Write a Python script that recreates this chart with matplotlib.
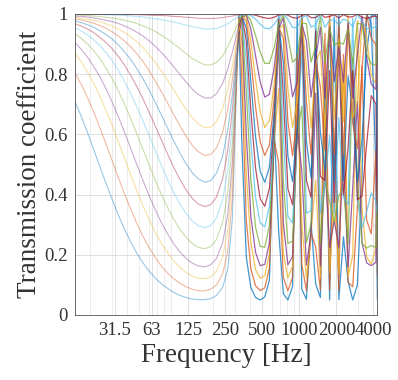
import numpy as np
import matplotlib
matplotlib.use("Agg")
import matplotlib.pyplot as plt
from matplotlib.ticker import FixedLocator, LogLocator, NullFormatter

plt.rcParams['font.family'] = ['Liberation Serif', 'DejaVu Serif']

# frequency grid [Hz]
freq = [15, 17, 19, 21.5, 24, 27, 30, 34, 38, 43, 48, 54, 60, 68, 76, 85, 95, 107,
        120, 135, 150, 170, 190, 212, 238, 262, 285, 305, 322, 340,
        370, 403, 440, 480, 523, 570, 622, 678, 740, 806, 880, 960, 1046, 1140,
        1244, 1356, 1480, 1612, 1760, 1918, 2092, 2280, 2488, 2712, 2958, 3226,
        3518, 3836, 4184, 4300]

# transmission coefficient, one list per case (deepest dip first)
t14 = [0.709, 0.656, 0.605, 0.545, 0.491, 0.434, 0.385, 0.329, 0.284, 0.239, 0.203, 0.171,
       0.146, 0.121, 0.103, 0.088, 0.075, 0.065, 0.058, 0.053, 0.051, 0.051, 0.054, 0.065,
       0.092, 0.154, 0.318, 0.709, 0.993, 0.580,
       0.193, 0.091, 0.058, 0.050, 0.060, 0.115, 0.629, 0.278, 0.071, 0.050, 0.095, 1.0,
       0.086, 0.052, 0.305, 0.103, 0.058, 0.790, 0.050, 0.990, 0.051, 0.260, 0.111, 0.050,
       0.099, 0.459, 1.0, 0.970, 0.490, 0.052]
t13 = [0.805, 0.763, 0.721, 0.670, 0.620, 0.565, 0.514, 0.453, 0.401, 0.347, 0.302, 0.258,
       0.224, 0.188, 0.161, 0.139, 0.121, 0.105, 0.094, 0.085, 0.081, 0.080, 0.086, 0.100,
       0.137, 0.214, 0.390, 0.721, 0.996, 0.784,
       0.316, 0.153, 0.097, 0.081, 0.090, 0.156, 0.585, 0.505, 0.125, 0.080, 0.125, 0.866,
       0.168, 0.081, 0.273, 0.225, 0.083, 0.935, 0.083, 0.585, 0.081, 0.866, 0.109, 0.094,
       0.356, 0.828, 0.316, 0.269, 0.547, 0.132]
t12 = [0.870, 0.839, 0.807, 0.766, 0.725, 0.677, 0.631, 0.572, 0.519, 0.461, 0.410, 0.359,
       0.317, 0.272, 0.236, 0.206, 0.180, 0.158, 0.141, 0.129, 0.122, 0.121, 0.127, 0.146,
       0.192, 0.282, 0.461, 0.742, 0.976, 0.912,
       0.472, 0.241, 0.151, 0.122, 0.130, 0.203, 0.571, 0.752, 0.208, 0.123, 0.163, 0.733,
       0.304, 0.122, 0.272, 0.449, 0.121, 0.665, 0.140, 0.395, 0.137, 0.851, 0.128, 0.198,
       0.978, 0.356, 0.192, 0.170, 0.222, 0.540]
t11 = [0.905, 0.881, 0.856, 0.823, 0.790, 0.749, 0.708, 0.656, 0.606, 0.549, 0.497, 0.443,
       0.397, 0.346, 0.305, 0.269, 0.237, 0.209, 0.188, 0.172, 0.163, 0.160, 0.167, 0.188,
       0.240, 0.335, 0.507, 0.749, 0.955, 0.971,
       0.600, 0.328, 0.208, 0.164, 0.168, 0.240, 0.559, 0.914, 0.306, 0.167, 0.194, 0.624,
       0.479, 0.166, 0.272, 0.737, 0.163, 0.494, 0.224, 0.315, 0.224, 0.532, 0.160, 0.423,
       0.709, 0.241, 0.173, 0.164, 0.175, 0.896]
t10 = [0.935, 0.918, 0.900, 0.876, 0.851, 0.818, 0.786, 0.742, 0.699, 0.648, 0.599, 0.547,
       0.499, 0.444, 0.398, 0.356, 0.319, 0.284, 0.258, 0.237, 0.225, 0.220, 0.227, 0.251,
       0.309, 0.409, 0.572, 0.775, 0.943, 0.995,
       0.744, 0.452, 0.292, 0.228, 0.225, 0.298, 0.581, 0.989, 0.444, 0.238, 0.245, 0.597,
       0.694, 0.240, 0.303, 0.956, 0.236, 0.446, 0.378, 0.309, 0.397, 0.420, 0.236, 0.855,
       0.457, 0.238, 0.222, 0.231, 0.224, 0.446]
t09 = [0.955, 0.943, 0.930, 0.913, 0.894, 0.870, 0.845, 0.810, 0.775, 0.732, 0.689, 0.641,
       0.596, 0.542, 0.495, 0.449, 0.408, 0.369, 0.337, 0.312, 0.297, 0.290, 0.297, 0.322,
       0.384, 0.484, 0.633, 0.802, 0.937, 1.0,
       0.845, 0.576, 0.391, 0.306, 0.293, 0.361, 0.607, 1.0, 0.597, 0.327, 0.306, 0.597,
       0.880, 0.338, 0.347, 0.996, 0.338, 0.436, 0.597, 0.335, 0.656, 0.391, 0.367, 0.986,
       0.384, 0.290, 0.342, 0.406, 0.379, 0.338]
t08 = [0.968, 0.959, 0.950, 0.937, 0.922, 0.904, 0.885, 0.858, 0.829, 0.793, 0.757, 0.715,
       0.674, 0.624, 0.579, 0.534, 0.491, 0.450, 0.415, 0.387, 0.369, 0.360, 0.366, 0.392,
       0.453, 0.548, 0.681, 0.822, 0.934, 0.998,
       0.911, 0.680, 0.488, 0.386, 0.361, 0.420, 0.637, 0.986, 0.729, 0.420, 0.366, 0.603,
       0.971, 0.447, 0.391, 0.944, 0.460, 0.447, 0.812, 0.374, 0.900, 0.399, 0.557, 0.812,
       0.382, 0.395, 0.567, 0.729, 0.701, 0.360]
t07 = [0.977, 0.971, 0.964, 0.955, 0.944, 0.931, 0.917, 0.896, 0.874, 0.846, 0.817, 0.782,
       0.748, 0.703, 0.662, 0.620, 0.579, 0.538, 0.502, 0.472, 0.453, 0.441, 0.446, 0.471,
       0.529, 0.616, 0.731, 0.846, 0.936, 0.993,
       0.954, 0.775, 0.592, 0.477, 0.441, 0.490, 0.669, 0.968, 0.840, 0.529, 0.443, 0.625,
       1.0, 0.576, 0.456, 0.887, 0.607, 0.483, 0.961, 0.441, 0.998, 0.447, 0.794, 0.683,
       0.441, 0.583, 0.873, 0.994, 0.994, 0.493]
t06 = [0.984, 0.980, 0.975, 0.969, 0.961, 0.952, 0.941, 0.926, 0.910, 0.889, 0.867, 0.840,
       0.812, 0.775, 0.740, 0.704, 0.666, 0.628, 0.593, 0.563, 0.543, 0.530, 0.533, 0.555,
       0.608, 0.685, 0.781, 0.872, 0.941, 0.990,
       0.978, 0.852, 0.692, 0.575, 0.530, 0.565, 0.715, 0.956, 0.919, 0.643, 0.529, 0.663,
       0.993, 0.707, 0.533, 0.847, 0.758, 0.547, 1.0, 0.535, 0.972, 0.530, 0.962, 0.637,
       0.552, 0.819, 1.0, 0.919, 0.899, 0.737]
t05 = [0.990, 0.986, 0.983, 0.979, 0.974, 0.967, 0.960, 0.949, 0.938, 0.923, 0.907, 0.886,
       0.865, 0.837, 0.809, 0.779, 0.748, 0.714, 0.683, 0.655, 0.636, 0.622, 0.624, 0.642,
       0.687, 0.751, 0.827, 0.898, 0.950, 0.988,
       0.991, 0.910, 0.782, 0.675, 0.623, 0.645, 0.763, 0.948, 0.965, 0.751, 0.623, 0.712,
       0.979, 0.824, 0.621, 0.837, 0.879, 0.623, 0.981, 0.651, 0.917, 0.643, 0.999, 0.654,
       0.707, 0.978, 0.924, 0.796, 0.770, 0.965]
t04 = [0.993, 0.992, 0.990, 0.987, 0.983, 0.979, 0.975, 0.968, 0.960, 0.950, 0.939, 0.926,
       0.911, 0.891, 0.871, 0.849, 0.825, 0.799, 0.774, 0.750, 0.733, 0.721, 0.721, 0.735,
       0.770, 0.818, 0.874, 0.923, 0.960, 0.988,
       0.997, 0.950, 0.862, 0.774, 0.724, 0.733, 0.818, 0.951, 0.988, 0.846, 0.725, 0.774,
       0.967, 0.911, 0.724, 0.852, 0.956, 0.720, 0.956, 0.776, 0.891, 0.774, 0.971, 0.720,
       0.865, 0.994, 0.856, 0.767, 0.749, 0.988]
t03 = [0.997, 0.996, 0.995, 0.993, 0.991, 0.989, 0.987, 0.983, 0.979, 0.974, 0.968, 0.960,
       0.952, 0.941, 0.929, 0.916, 0.901, 0.885, 0.868, 0.852, 0.841, 0.831, 0.831, 0.839,
       0.861, 0.891, 0.925, 0.954, 0.975, 0.991,
       1.0, 0.978, 0.929, 0.873, 0.836, 0.836, 0.886, 0.965, 0.998, 0.926, 0.840, 0.855,
       0.970, 0.968, 0.840, 0.894, 0.991, 0.837, 0.951, 0.897, 0.905, 0.900, 0.951, 0.833,
       0.970, 0.965, 0.866, 0.834, 0.830, 0.940]
t02 = [0.999, 0.999, 0.999, 0.998, 0.998, 0.997, 0.997, 0.996, 0.995, 0.993, 0.992, 0.990,
       0.987, 0.984, 0.981, 0.977, 0.973, 0.968, 0.963, 0.958, 0.954, 0.950, 0.950, 0.952,
       0.959, 0.968, 0.978, 0.986, 0.992, 0.997,
       1.0, 0.995, 0.983, 0.966, 0.953, 0.951, 0.965, 0.988, 1.0, 0.983, 0.955, 0.955,
       0.988, 0.995, 0.956, 0.964, 1.0, 0.956, 0.979, 0.980, 0.964, 0.983, 0.976, 0.957,
       0.999, 0.977, 0.951, 0.953, 0.957, 0.964]
t01 = [1.0, 1.0, 1.0, 0.999, 0.999, 0.999, 0.999, 0.999, 0.998, 0.998, 0.998, 0.997,
       0.996, 0.995, 0.995, 0.994, 0.992, 0.991, 0.989, 0.988, 0.986, 0.985, 0.985, 0.986,
       0.988, 0.991, 0.993, 0.996, 0.998, 0.999,
       1.0, 0.999, 0.996, 0.991, 0.987, 0.985, 0.989, 0.996, 1.0, 0.996, 0.988, 0.986,
       0.995, 0.999, 0.988, 0.988, 1.0, 0.989, 0.992, 0.997, 0.987, 0.998, 0.990, 0.991,
       1.0, 0.989, 0.985, 0.990, 0.993, 0.986]

curves = [t14, t13, t12, t11, t10, t09, t08, t07, t06, t05, t04, t03, t02, t01]

tick_freqs = [31.5, 63, 125, 250, 500, 1000, 2000, 4000]
tick_labels = ['31.5', '63', '125', '250', '500', '1000', '2000', '4000']

# MATLAB default colour order
matlab_colors = ['#0072BD', '#D95319', '#EDB120', '#7E2F8E', '#77AC30', '#4DBEEE', '#A2142F']

fig = plt.figure(figsize=(3.98, 3.8), dpi=100)
ax = fig.add_axes([0.1884, 0.1711, 0.7588, 0.7921])

n_low = freq.index(322)  # end of the smooth low-frequency part
for i, t in enumerate(curves):
    c = matlab_colors[i % 7]
    ax.plot(freq[:n_low + 1], t[:n_low + 1], color=c, lw=0.8, alpha=0.4)
    ax.plot(freq[n_low:], t[n_low:], color=c, lw=0.9, alpha=0.75)

ax.set_xscale('log')
ax.set_xlim(15, 4270)
ax.set_ylim(0, 1)

ax.xaxis.set_major_locator(FixedLocator(tick_freqs))
ax.set_xticklabels(tick_labels)
ax.xaxis.set_minor_locator(LogLocator(base=10, subs=np.arange(2, 10), numticks=20))
ax.xaxis.set_minor_formatter(NullFormatter())
ax.set_yticks([0, 0.2, 0.4, 0.6, 0.8, 1])
ax.set_yticklabels(['0', '0.2', '0.4', '0.6', '0.8', '1'])

ax.grid(True, which='major', color='#dadada', lw=0.6)
ax.grid(True, which='minor', axis='x', color='#e6e6e6', lw=0.5)
ax.set_axisbelow(True)

for sp in ax.spines.values():
    sp.set_color('#555555')
    sp.set_linewidth(0.6)
ax.tick_params(which='both', direction='in', length=0, labelsize=13.5, colors='#333333')
ax.tick_params(axis='x', pad=5)
ax.tick_params(axis='y', pad=5)

ax.set_xlabel('Frequency [Hz]', fontsize=19.5, color='#333333', labelpad=3)
ax.set_ylabel('Transmission coefficient', fontsize=19.5, color='#333333', labelpad=2)

fig.savefig('out.png', dpi=100)
